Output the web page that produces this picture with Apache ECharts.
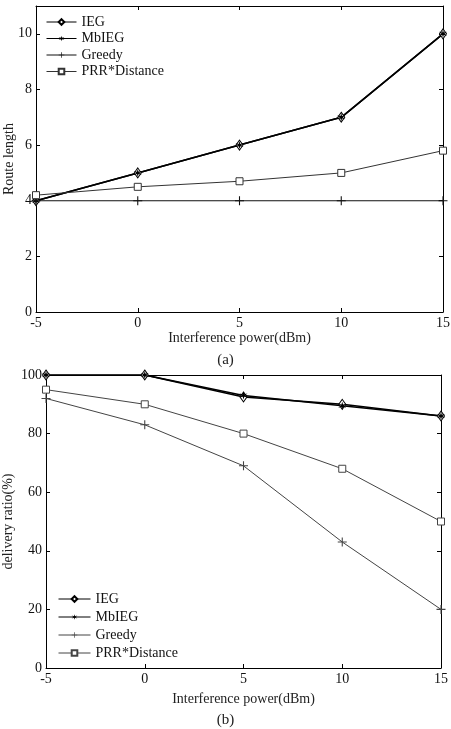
<!DOCTYPE html>
<html>
<head>
<meta charset="utf-8">
<script src="https://cdn.jsdelivr.net/npm/echarts@6/dist/echarts.min.js"></script>
<style>
html, body { margin: 0; padding: 0; background: #fff; }
#main { width: 451px; height: 729px; }
</style>
</head>
<body>
<div id="main"></div>
<script>
// interference power (dBm)
var xVals = [-5, 0, 5, 10, 15];
var names = ['IEG', 'MbIEG', 'Greedy', 'PRR*Distance'];

// (a) route length
var routeIEG = [4, 5, 6, 7, 10];
var routeMbIEG = [4, 5, 6, 7, 10];
var routeGreedy = [4, 4, 4, 4, 4];
var routePRR = [4.2, 4.5, 4.7, 5, 5.8];

// (b) delivery ratio (%)
var ratioIEG = [100, 100, 92.5, 90, 86];
var ratioMbIEG = [100, 100, 93, 89.5, 86];
var ratioGreedy = [92, 83, 69, 43, 20];
var ratioPRR = [95, 90, 80, 68, 50];

var FONT = '"Liberation Serif", "DejaVu Serif", serif';
var STAR = 'path://M5,0L6,3.5L10,2.5L7,5L10,7.5L6,6.5L5,10L4,6.5L0,7.5L3,5L0,2.5L4,3.5Z';
var PLUS = 'path://M4.4,0H5.6V4.4H10V5.6H5.6V10H4.4V5.6H0V4.4H4.4Z';

function pairs(ys) {
	return xVals.map(function(x, i) { return [x, ys[i]]; });
}

var myChart = echarts.init(document.getElementById('main'));

function xAxes(gi, gap) {
	var base = {
		type: 'value', gridIndex: gi, min: -5, max: 15, interval: 5,
		axisLine: { show: true, onZero: false, lineStyle: { color: '#000', width: 1 } },
		axisTick: { show: true, inside: true, length: 4, lineStyle: { color: '#000' } },
		splitLine: { show: false }
	};
	var bottom = echarts.util.merge({
		position: 'bottom',
		name: 'Interference power(dBm)', nameLocation: 'middle', nameGap: gap, nameMoveOverlap: false,
		nameTextStyle: { fontFamily: FONT, fontSize: 14, color: '#222' },
		axisLabel: { fontFamily: FONT, fontSize: 14, color: '#111', margin: 4 }
	}, base, true);
	var top = echarts.util.merge({ position: 'top', axisLabel: { show: false } }, base, true);
	return [bottom, top];
}

function yAxes(gi, max, interval, name, gap) {
	var base = {
		type: 'value', gridIndex: gi, min: 0, max: max, interval: interval,
		axisLine: { show: true, onZero: false, lineStyle: { color: '#000', width: 1 } },
		axisTick: { show: true, inside: true, length: 4, lineStyle: { color: '#000' } },
		splitLine: { show: false }
	};
	var left = echarts.util.merge({
		position: 'left',
		name: name, nameLocation: 'middle', nameGap: gap, nameMoveOverlap: false,
		nameTextStyle: { fontFamily: FONT, fontSize: 14, color: '#222' },
		axisLabel: { fontFamily: FONT, fontSize: 14, color: '#111', margin: 4, showMaxLabel: max % interval === 0 }
	}, base, true);
	var right = echarts.util.merge({ position: 'right', axisLabel: { show: false } }, base, true);
	return [left, right];
}

function mk(name, data, gi, symbol, size, hollow, color, width) {
	return {
		name: name, type: 'line', xAxisIndex: gi * 2, yAxisIndex: gi * 2,
		data: pairs(data), symbol: symbol, symbolSize: size, showSymbol: true,
		lineStyle: { color: color, width: width },
		itemStyle: hollow ? { color: '#fff', borderColor: color, borderWidth: 1 } : { color: color, borderWidth: 0 },
		emphasis: { disabled: true },
		animation: false, z: 3
	};
}

var suffix = ' ';
var legendText = { fontFamily: FONT, fontSize: 14, color: '#111' };
var option = {
	animation: false,
	backgroundColor: '#fff',
	textStyle: { fontFamily: FONT },
	title: [
		{ text: '(a)', left: 'center', top: 348, textStyle: { fontFamily: FONT, fontSize: 15, fontWeight: 'normal', color: '#222' } },
		{ text: '(b)', left: 'center', top: 708, textStyle: { fontFamily: FONT, fontSize: 15, fontWeight: 'normal', color: '#222' } }
	],
	grid: [
		{ left: 36, right: 8, top: 6, height: 306, outerBoundsMode: 'none', containLabel: false },
		{ left: 46, right: 10, top: 375, height: 293, outerBoundsMode: 'none', containLabel: false }
	],
	legend: [
		{
			data: names, orient: 'vertical', left: 46, top: 15, padding: 0,
			itemWidth: 30, itemHeight: 7, itemGap: 2.5,
			lineStyle: { width: 1 },
			textStyle: legendText
		},
		{
			data: names.map(function(n) { return n + suffix; }), orient: 'vertical', left: 58, top: 592, padding: 0,
			itemWidth: 32, itemHeight: 7, itemGap: 4,
			lineStyle: { width: 1 },
			textStyle: legendText
		}
	],
	xAxis: xAxes(0, 19).concat(xAxes(1, 24)),
	yAxis: yAxes(0, 11, 2, 'Route length', 20).concat(yAxes(1, 100, 20, 'delivery ratio(%)', 31)),
	series: [
		mk('IEG', routeIEG, 0, 'diamond', [7, 10], true, '#000', 1.6),
		mk('MbIEG', routeMbIEG, 0, STAR, 8, false, '#000', 1.6),
		mk('Greedy', routeGreedy, 0, PLUS, 9, false, '#111', 1.2),
		mk('PRR*Distance', routePRR, 0, 'rect', 7, true, '#333', 1),
		mk('IEG' + suffix, ratioIEG, 1, 'diamond', [7, 10], true, '#000', 1.6),
		mk('MbIEG' + suffix, ratioMbIEG, 1, STAR, 8, false, '#000', 1.6),
		mk('Greedy' + suffix, ratioGreedy, 1, PLUS, 9, false, '#444', 1),
		mk('PRR*Distance' + suffix, ratioPRR, 1, 'rect', 7, true, '#444', 1)
	]
};

myChart.setOption(option);
</script>
</body>
</html>
